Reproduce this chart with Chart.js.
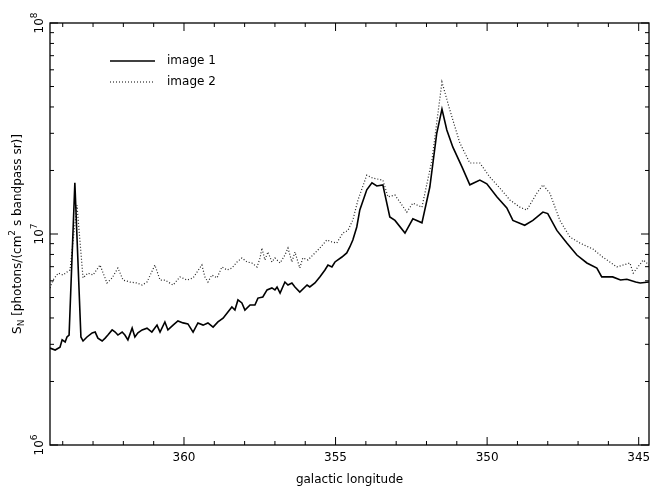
<!DOCTYPE html>
<html>
<head>
<meta charset="utf-8">
<script src="https://cdn.jsdelivr.net/npm/chart.js@4"></script>
<style>
  body { margin: 0; background: #fff; }
  canvas { display: block; }
</style>
</head>
<body>
<canvas id="spectrum" width="650" height="490"></canvas>
<script>
// galactic longitude (deg) and S_N (units of 1e6)
const lon1 = [364.42, 364.25, 364.09, 364.02, 363.92, 363.86, 363.79, 363.60, 363.40, 363.33,
  363.20, 363.03, 362.93, 362.84, 362.70, 362.60, 362.51, 362.37, 362.27, 362.18,
  362.04, 361.95, 361.85, 361.71, 361.62, 361.52, 361.38, 361.22, 361.06, 360.89,
  360.79, 360.63, 360.53, 360.36, 360.20, 360.03, 359.87, 359.70, 359.54, 359.37,
  359.21, 359.04, 358.88, 358.71, 358.55, 358.42, 358.32, 358.22, 358.09, 357.99,
  357.82, 357.66, 357.56, 357.40, 357.26, 357.10, 357.00, 356.93, 356.83, 356.67,
  356.57, 356.44, 356.34, 356.18, 355.94, 355.85, 355.68, 355.52, 355.35, 355.25,
  355.12, 355.02, 354.79, 354.63, 354.53, 354.43, 354.30, 354.20, 353.97, 353.80,
  353.64, 353.44, 353.21, 353.04, 352.71, 352.45, 352.15, 351.89, 351.66, 351.49,
  351.33, 351.13, 350.83, 350.57, 350.24, 350.01, 349.68, 349.35, 349.15, 348.76,
  348.49, 348.16, 348.00, 347.70, 347.37, 347.04, 346.71, 346.38, 346.22, 345.86,
  345.60, 345.39, 345.10, 344.95, 344.66];
const flux1 = [2.88, 2.82, 2.91, 3.15, 3.08, 3.25, 3.32, 17.5, 3.25, 3.11,
  3.25, 3.40, 3.43, 3.21, 3.11, 3.21, 3.32, 3.51, 3.43, 3.32,
  3.43, 3.32, 3.15, 3.58, 3.25, 3.40, 3.51, 3.58, 3.43, 3.70,
  3.43, 3.83, 3.51, 3.70, 3.87, 3.79, 3.75, 3.43, 3.79, 3.70,
  3.79, 3.62, 3.83, 3.99, 4.27, 4.51, 4.36, 4.87, 4.71, 4.36,
  4.61, 4.61, 4.97, 5.03, 5.43, 5.55, 5.43, 5.61, 5.25, 5.92,
  5.73, 5.86, 5.61, 5.31, 5.73, 5.61, 5.86, 6.26, 6.75, 7.13,
  6.98, 7.37, 7.78, 8.13, 8.68, 9.37, 10.8, 13.0, 16.2, 17.5,
  16.9, 17.1, 12.05, 11.6, 10.1, 11.8, 11.3, 16.7, 30.1, 39.1,
  31.1, 25.8, 20.8, 17.1, 18.0, 17.3, 15.0, 13.3, 11.6, 11.0,
  11.6, 12.7, 12.5, 10.4, 9.06, 7.95, 7.29, 6.90, 6.26, 6.26,
  6.05, 6.10, 5.92, 5.86, 5.92];

const lon2 = [364.42, 364.32, 364.15, 363.99, 363.86, 363.76, 363.53, 363.33, 363.17, 363.00,
  362.77, 362.54, 362.37, 362.18, 362.01, 361.78, 361.55, 361.38, 361.22, 360.96,
  360.79, 360.63, 360.36, 360.13, 359.90, 359.70, 359.41, 359.31, 359.21, 359.08,
  358.91, 358.75, 358.58, 358.42, 358.25, 358.09, 357.92, 357.76, 357.59, 357.49,
  357.43, 357.33, 357.23, 357.10, 357.00, 356.83, 356.67, 356.57, 356.44, 356.34,
  356.18, 356.08, 355.91, 355.68, 355.52, 355.29, 355.12, 354.96, 354.76, 354.59,
  354.43, 354.26, 353.97, 353.77, 353.44, 353.27, 353.04, 352.65, 352.45, 352.15,
  351.82, 351.49, 351.23, 350.90, 350.57, 350.24, 349.91, 349.58, 349.25, 348.92,
  348.69, 348.36, 348.16, 347.93, 347.60, 347.27, 346.94, 346.51, 346.19, 345.72,
  345.29, 345.18, 344.85, 344.66];
const flux2 = [5.55, 6.05, 6.53, 6.39, 6.60, 6.75, 13.7, 6.19, 6.53, 6.39,
  7.13, 5.86, 6.19, 6.90, 6.05, 5.92, 5.86, 5.73, 5.92, 7.13,
  6.05, 6.05, 5.73, 6.26, 6.05, 6.19, 7.13, 6.26, 5.92, 6.39,
  6.19, 6.98, 6.75, 6.90, 7.37, 7.70, 7.37, 7.29, 6.98, 7.70,
  8.58, 7.53, 8.22, 7.37, 7.70, 7.29, 7.95, 8.58, 7.37, 8.22,
  6.90, 7.70, 7.53, 8.13, 8.58, 9.37, 9.17, 9.07, 10.1, 10.4,
  11.65, 14.5, 19.0, 18.4, 18.0, 15.0, 15.3, 12.7, 14.0, 13.4,
  22.4, 52.5, 38.7, 27.0, 21.7, 21.7, 18.6, 16.5, 14.5, 13.4,
  13.0, 15.6, 17.1, 15.6, 11.6, 9.68, 9.06, 8.49, 7.78, 6.98,
  7.29, 6.53, 7.53, 7.13];

const xTicks = [345, 350, 355, 360];
const yDecades = [6, 7, 8];
const seriesNames = ["image 1", "image 2"];

const FONT = "'DejaVu Sans', sans-serif";

function drawPieces(ctx, pieces, x, y) {
  // pieces: [text, size, dy], drawn left to right from x
  let cx = x;
  pieces.forEach(([t, size, dy]) => {
    ctx.font = size + "px " + FONT;
    ctx.fillText(t, cx, y + dy);
    cx += ctx.measureText(t).width;
  });
}
function piecesWidth(ctx, pieces) {
  let w = 0;
  pieces.forEach(([t, size]) => {
    ctx.font = size + "px " + FONT;
    w += ctx.measureText(t).width;
  });
  return w;
}

const framePlugin = {
  id: "frame",
  afterDraw(chart) {
    const ctx = chart.ctx;
    const a = chart.chartArea;
    const xs = chart.scales.x, ys = chart.scales.y;
    ctx.save();
    ctx.strokeStyle = "#000";
    ctx.fillStyle = "#000";
    ctx.lineWidth = 1.3;
    ctx.strokeRect(a.left, a.top, a.right - a.left, a.bottom - a.top);

    // x ticks, top and bottom
    ctx.lineWidth = 1;
    ctx.beginPath();
    for (let v = 345; v <= 364; v++) {
      const px = xs.getPixelForValue(v);
      const len = v % 5 === 0 ? 8 : 4;
      ctx.moveTo(px, a.bottom); ctx.lineTo(px, a.bottom - len);
      ctx.moveTo(px, a.top); ctx.lineTo(px, a.top + len);
    }
    // y ticks, left and right
    yDecades.forEach(d => {
      for (let m = 1; m <= 9; m++) {
        if (d === 8 && m > 1) break;
        const py = ys.getPixelForValue(m * Math.pow(10, d));
        const len = m === 1 ? 8 : 4;
        ctx.moveTo(a.left, py); ctx.lineTo(a.left + len, py);
        ctx.moveTo(a.right, py); ctx.lineTo(a.right - len, py);
      }
    });
    ctx.stroke();

    // y tick labels, rotated
    ctx.textBaseline = "alphabetic";
    yDecades.forEach(d => {
      const py = ys.getPixelForValue(Math.pow(10, d));
      const pieces = [["10", 12, 0], [String(d), 9, -6]];
      const w = piecesWidth(ctx, pieces);
      ctx.save();
      ctx.translate(43, py);
      ctx.rotate(-Math.PI / 2);
      drawPieces(ctx, pieces, -w / 2, 0);
      ctx.restore();
    });

    // y axis title
    const title = [["S", 12, 0], ["N", 9, 3], [" [photons/(cm", 12, 0], ["2", 9, -6], [" s bandpass sr)]", 12, 0]];
    const tw = piecesWidth(ctx, title);
    ctx.save();
    ctx.translate(21, (a.top + a.bottom) / 2);
    ctx.rotate(-Math.PI / 2);
    drawPieces(ctx, title, -tw / 2, 0);
    ctx.restore();

    // legend
    const rows = [61, 82];
    rows.forEach((ry, i) => {
      ctx.beginPath();
      ctx.lineWidth = i === 0 ? 1.6 : 1.2;
      ctx.setLineDash(i === 0 ? [] : [1, 2]);
      ctx.moveTo(110, ry); ctx.lineTo(155, ry);
      ctx.stroke();
      ctx.setLineDash([]);
      ctx.font = "12px " + FONT;
      ctx.textBaseline = "middle";
      ctx.fillText(seriesNames[i], 167, ry);
    });
    ctx.restore();
  }
};

new Chart(document.getElementById("spectrum"), {
  type: "line",
  data: {
    datasets: [
      {
        label: seriesNames[0],
        data: lon1.map((x, i) => ({ x: x, y: flux1[i] * 1e6 })),
        borderColor: "#000",
        borderWidth: 1.6,
        pointRadius: 0,
        tension: 0,
      },
      {
        label: seriesNames[1],
        data: lon2.map((x, i) => ({ x: x, y: flux2[i] * 1e6 })),
        borderColor: "#222",
        borderWidth: 1.2,
        borderDash: [1, 2],
        pointRadius: 0,
        tension: 0,
      },
    ],
  },
  options: {
    responsive: false,
    animation: false,
    layout: { padding: { top: 23, right: 1, left: 0, bottom: 0 } },
    plugins: {
      legend: { display: false },
      tooltip: { enabled: false },
    },
    scales: {
      x: {
        type: "linear",
        reverse: true,
        min: 344.66,
        max: 364.42,
        grid: { display: false, drawTicks: false },
        border: { display: false },
        afterBuildTicks: (s) => { s.ticks = xTicks.map(v => ({ value: v })); },
        afterFit: (s) => { s.height = 45; },
        ticks: {
          padding: 6,
          color: "#000",
          font: { family: FONT, size: 12 },
          callback: (v) => String(v),
        },
        title: {
          display: true,
          text: "galactic longitude",
          color: "#000",
          font: { family: FONT, size: 12 },
          padding: { top: 0, bottom: 3 },
        },
      },
      y: {
        type: "logarithmic",
        min: 1e6,
        max: 1e8,
        grid: { display: false, drawTicks: false },
        border: { display: false },
        ticks: { display: false },
        afterFit: (s) => { s.width = 50; },
      },
    },
  },
  plugins: [framePlugin],
});
</script>
</body>
</html>
